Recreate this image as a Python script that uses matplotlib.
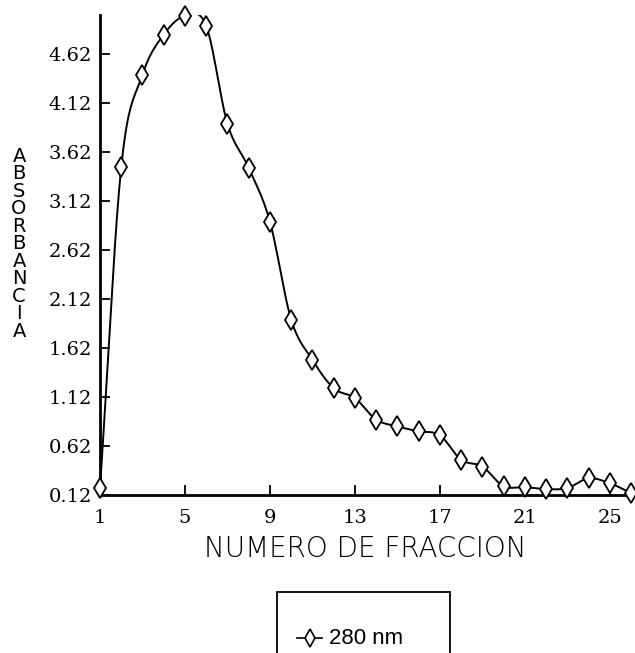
import numpy as np
import matplotlib
matplotlib.use("Agg")
import matplotlib.pyplot as plt
from matplotlib.lines import Line2D
from matplotlib.patches import Rectangle

fraccion = [1, 2, 3, 4, 5, 6, 7, 8, 9, 10, 11, 12, 13,
            14, 15, 16, 17, 18, 19, 20, 21, 22, 23, 24, 25, 26]
absorbancia = [0.19, 3.47, 4.41, 4.82, 5.01, 4.91, 3.91, 3.46, 2.91, 1.91,
               1.50, 1.21, 1.11, 0.89, 0.82, 0.77, 0.73, 0.48, 0.41, 0.21,
               0.20, 0.18, 0.19, 0.29, 0.24, 0.14]
xticks = [1, 5, 9, 13, 17, 21, 25]
yticks = [0.12, 0.62, 1.12, 1.62, 2.12, 2.62, 3.12, 3.62, 4.12, 4.62]
ylabel = "ABSORBANCIA"
xlabel = "NUMERO DE FRACCION"
serie = "280 nm"


def smooth(x, y, n=20):
    # catmull-rom curve through the points, only for drawing
    x = np.asarray(x, float)
    y = np.asarray(y, float)
    px = np.concatenate([[2 * x[0] - x[1]], x, [2 * x[-1] - x[-2]]])
    py = np.concatenate([[2 * y[0] - y[1]], y, [2 * y[-1] - y[-2]]])
    t = np.linspace(0, 1, n, endpoint=False)
    xs, ys = [], []
    for i in range(1, len(px) - 2):
        for p, out in ((px, xs), (py, ys)):
            p0, p1, p2, p3 = p[i - 1], p[i], p[i + 1], p[i + 2]
            out.extend(0.5 * (2 * p1 + (-p0 + p2) * t
                              + (2 * p0 - 5 * p1 + 4 * p2 - p3) * t ** 2
                              + (-p0 + 3 * p1 - 3 * p2 + p3) * t ** 3))
    xs.append(x[-1])
    ys.append(y[-1])
    return np.array(xs), np.array(ys)


fig = plt.figure(figsize=(6.35, 6.53), dpi=100)
ax = fig.add_axes([0.1575, 0.242, 0.8362, 0.735])

sx, sy = smooth(fraccion, absorbancia)
ax.plot(sx, sy, color="black", lw=1.4, zorder=2)
ax.plot(fraccion, absorbancia, ls="none", marker="d", ms=10,
        mfc="white", mec="black", mew=1.3, zorder=3, clip_on=False)

ax.set_xlim(1, 26)
ax.set_ylim(0.12, 5.02)
ax.set_xticks(xticks)
ax.set_yticks(yticks)
ax.set_yticklabels(["%.2f" % v for v in yticks])
for s in ["top", "right"]:
    ax.spines[s].set_visible(False)
for s in ["left", "bottom"]:
    ax.spines[s].set_linewidth(2)
ax.tick_params(direction="in", length=7, width=1.3, labelsize=14)
ax.tick_params(axis="x", pad=10)
ax.tick_params(axis="y", pad=6)
for lab in ax.get_xticklabels() + ax.get_yticklabels():
    lab.set_family("DejaVu Serif")

ax.set_xlabel(xlabel, fontsize=20, family="DejaVu Sans", fontweight="light",
              labelpad=6)
fig.text(0.03, 0.627, "\n".join(ylabel), ha="center", va="center",
         fontsize=14, family="DejaVu Sans", linespacing=0.9)

# legend box, cut by the bottom edge as in the original
fig.add_artist(Rectangle((277 / 635, -0.05), 173 / 635, 0.05 + 61 / 653,
                         transform=fig.transFigure, fill=False,
                         ec="black", lw=1.3))
ly = 1 - 638 / 653
fig.add_artist(Line2D([297 / 635, 322 / 635], [ly, ly],
                      transform=fig.transFigure, color="black", lw=1.2))
fig.add_artist(Line2D([310 / 635], [ly], transform=fig.transFigure,
                      marker="d", ms=9, mfc="white", mec="black", mew=1.2))
fig.text(329 / 635, ly, serie, ha="left", va="center", fontsize=16,
         family="Liberation Sans")

fig.savefig("out.png", dpi=100)
